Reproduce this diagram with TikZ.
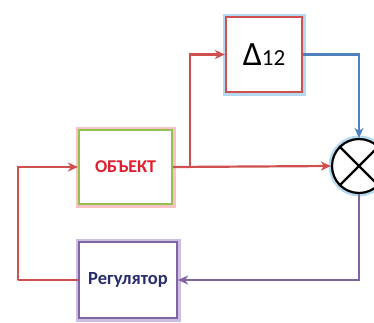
\documentclass[tikz,border=0pt]{standalone}
\usepackage{fontspec}
\setmainfont{Carlito}
\usetikzlibrary{arrows.meta}
\definecolor{linered}{RGB}{208,80,80}
\definecolor{lineblue}{RGB}{79,129,189}
\definecolor{linepurple}{RGB}{128,100,162}
\definecolor{boxgreen}{RGB}{150,190,80}
\definecolor{glowpink}{RGB}{248,195,195}
\definecolor{glowblue}{RGB}{180,218,242}
\definecolor{glowpurple}{RGB}{205,190,228}
\definecolor{textred}{RGB}{225,30,45}
\definecolor{textnavy}{RGB}{40,45,110}
\tikzset{
  block/.style={rectangle, fill=white, line width=2.2pt, inner sep=0pt},
  glow/.style={preaction={draw=#1, line width=7pt}},
  conn/.style={line width=2.2pt, -{Stealth[length=10pt,width=9pt,inset=3pt]}},
  wire/.style={line width=2.2pt}
}
\begin{document}
\begin{tikzpicture}[x=1pt,y=-1pt]
\useasboundingbox (0,0) rectangle (374,322);
\fill[white] (0,0) rectangle (374,322);

% blocks
\node[block, draw=linered, glow=glowblue, minimum width=76pt, minimum height=75pt]
  (delta) at (264,54.5) {{\fontsize{34}{36}\selectfont Δ}{\fontsize{23}{25}\selectfont 12}};
\node[block, draw=boxgreen, glow=glowpink, minimum width=93pt, minimum height=74pt]
  (obj) at (125.5,167) {\fontsize{18}{20}\selectfont\bfseries\color{textred}ОБЪЕКТ};
\node[block, draw=linepurple, glow=glowpurple, minimum width=98pt, minimum height=76pt]
  (reg) at (128,280) {\fontsize{18.5}{20}\selectfont\bfseries\color{textnavy}Регулятор};

% summing junction
\node[circle, draw=black, fill=white, line width=2.2pt, minimum size=54pt, inner sep=0pt,
      glow=glowblue] (sum) at (359,166) {};
\draw[line width=2.2pt] (sum.north west) -- (sum.south east)
                        (sum.north east) -- (sum.south west);

% connectors
\coordinate (br) at (190,167);
\coordinate (lp) at (18,280);
\draw[conn, linered] (obj.east) -- (sum.west);
\draw[conn, linered] (br) |- (delta.west);
\draw[conn, lineblue] (delta.east) -| (sum.north);
\draw[conn, linepurple] (sum.south) |- (reg.east);
\draw[wire, linered] (reg.west) -- (lp);
\draw[conn, linered] (lp) |- (obj.west);
\end{tikzpicture}
\end{document}
